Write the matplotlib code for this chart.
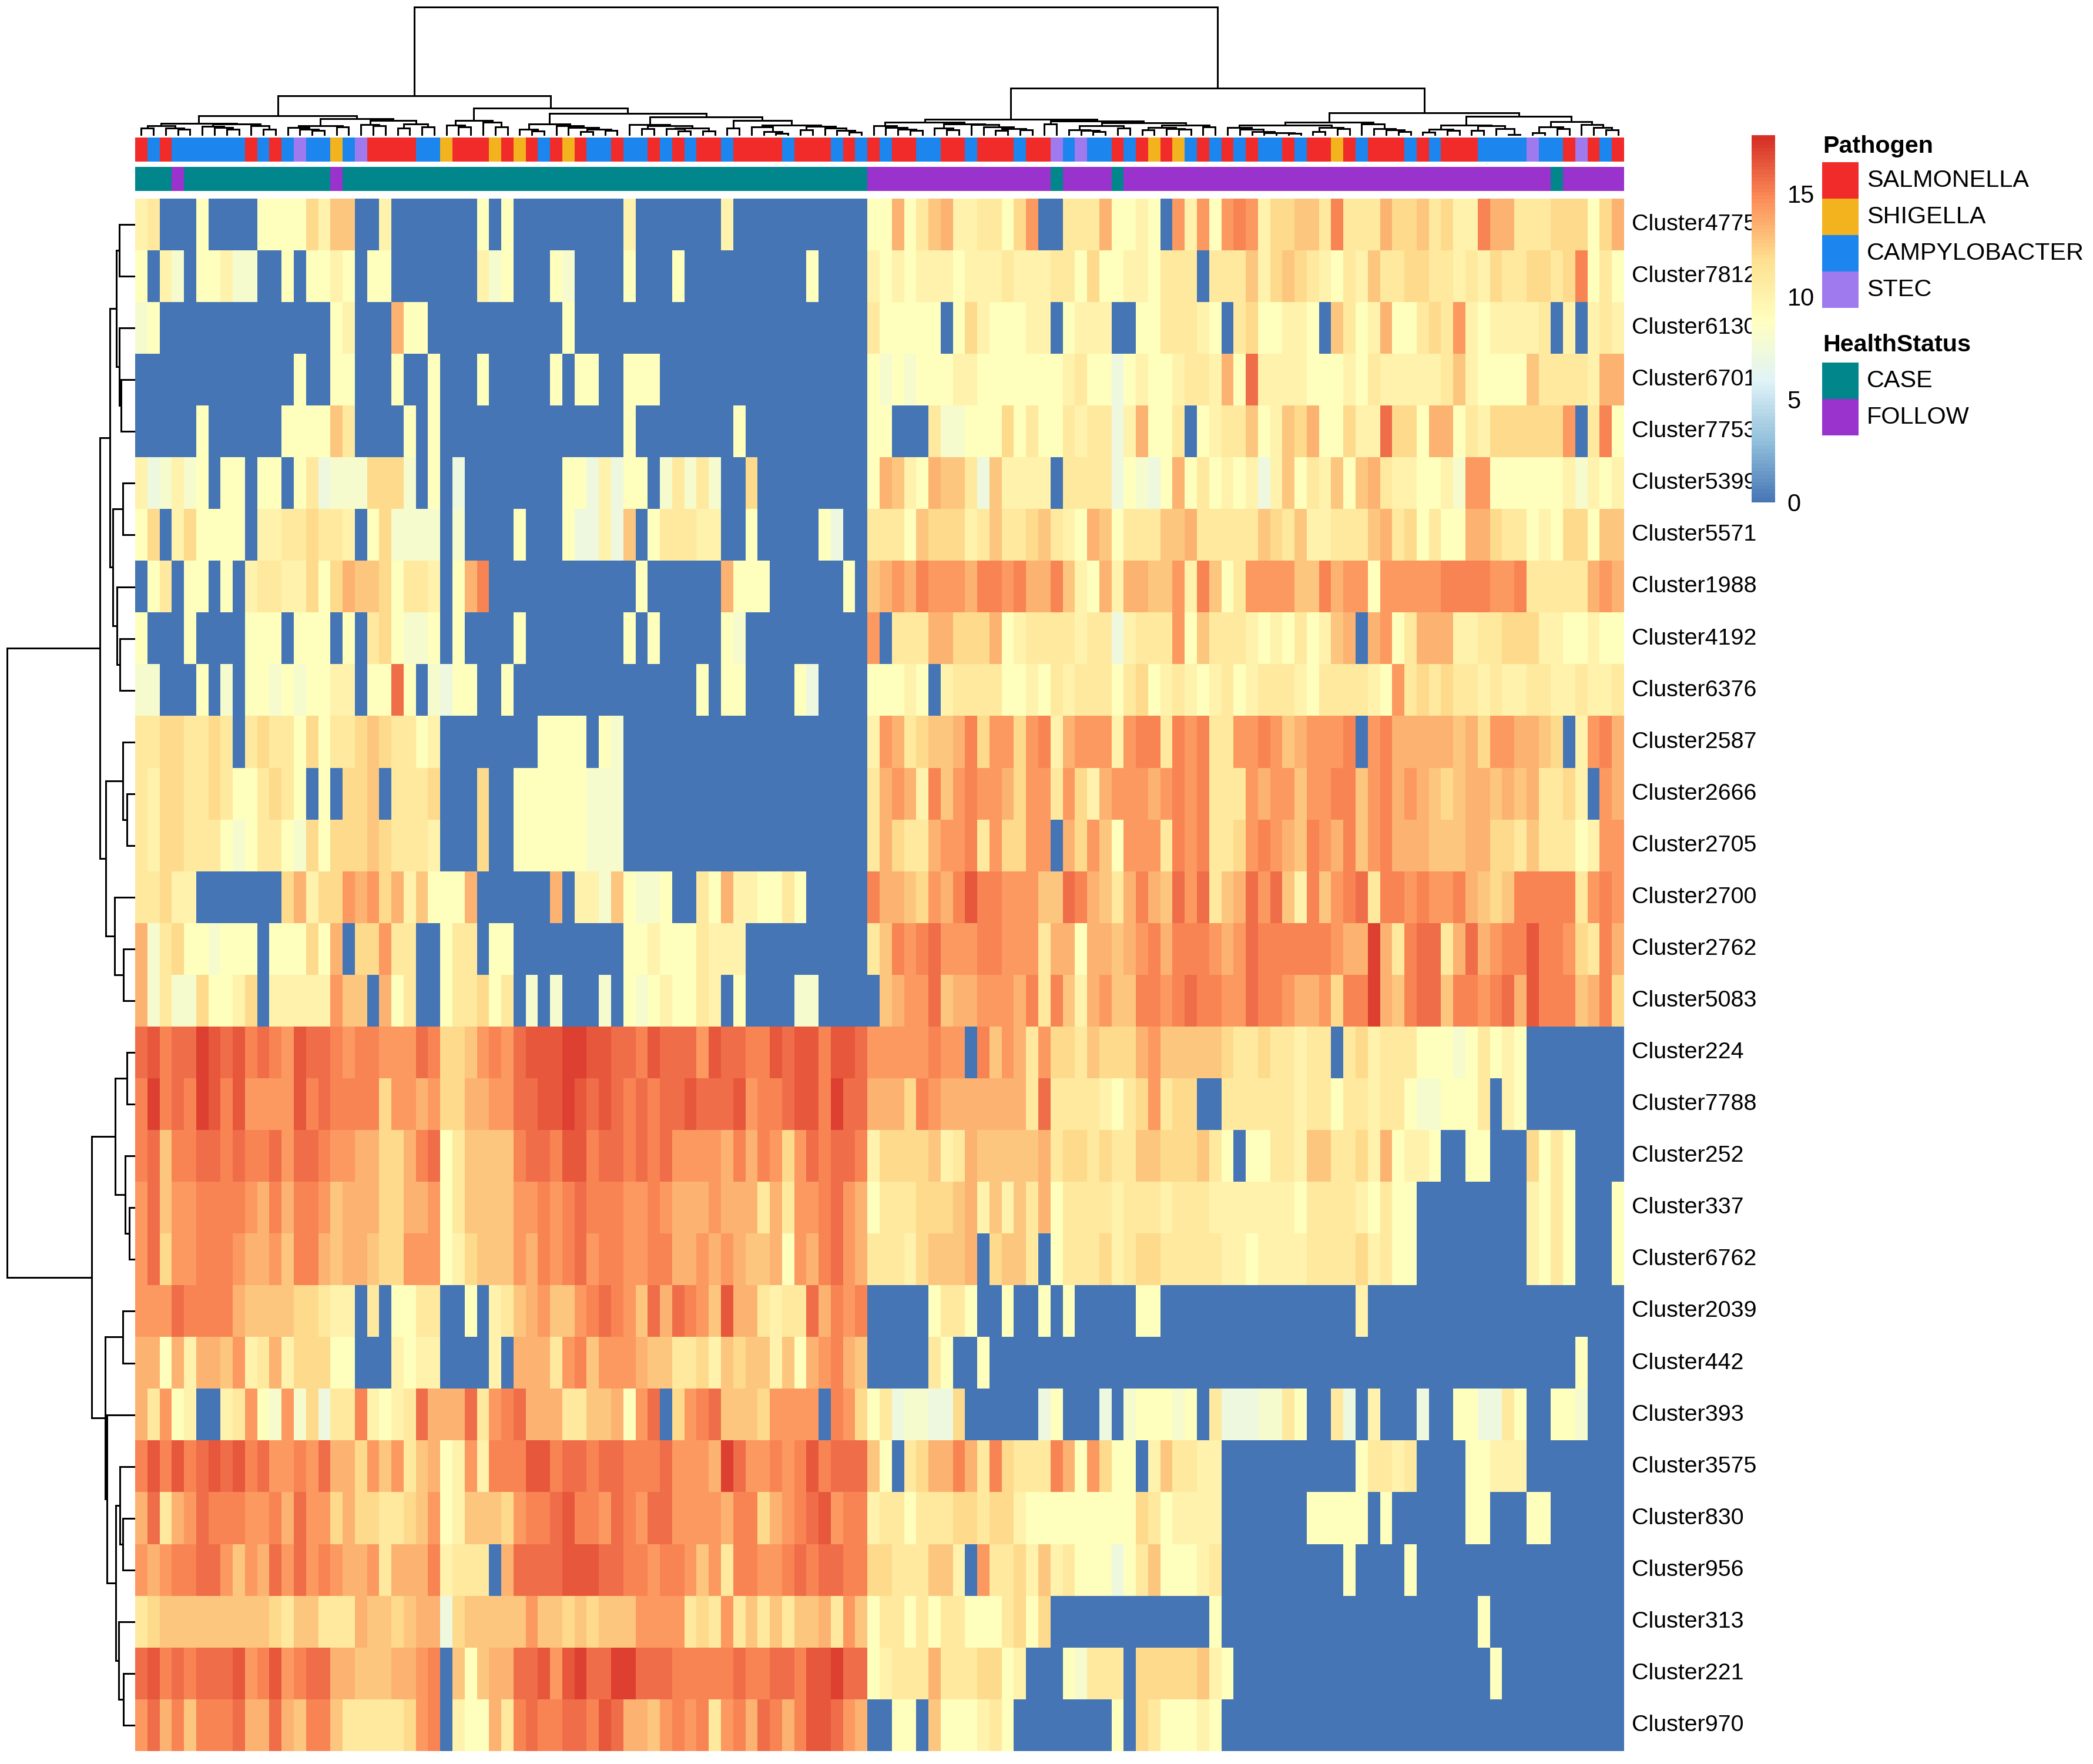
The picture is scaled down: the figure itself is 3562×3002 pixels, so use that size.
#!/usr/bin/env python3
# -*- coding: UTF-8 -*-
"""
Clustered heatmap of gene clusters by sample, with annotations and dendrograms.
"""
import numpy as np
import matplotlib
matplotlib.use('Agg')
from matplotlib import pyplot as plt
from matplotlib.collections import LineCollection
from matplotlib.colors import LinearSegmentedColormap, ListedColormap, Normalize
from matplotlib.colorbar import Colorbar
from matplotlib.patches import Rectangle

plt.rcParams['font.family'] = ['Liberation Sans', 'DejaVu Sans']

# value read for each letter in the rows below
LEVELS = {'.': 0.0, 'z': 7.3, 'y': 8.2, 'a': 9.0, 'b': 10.0, 'c': 11.0, 'd': 12.0,
          'e': 12.8, 'f': 13.5, 'h': 14.3, 'i': 15.0, 'j': 15.8, 'k': 16.5, 'l': 17.2}

CLUSTER4775 = "bc...a.... aaaadbee.. b.......a. a......... b.......b. .......... aafacefbbc cadh..cccf aaba.hbhah ihbddeecic ccfddecdbb iffcccdddadf"
CLUSTER7812 = "a.by.aabyy ..a.aaba.a a.......by a...ay.... a...a..... .....a.... bababbbabb bcbbbccada abbaccc.cc cebdedcbac beccddccbc bdccddcdiaca"
CLUSTER6130 = "ya........ ......ab.. .faa...... .....a.... .......... .......... caaaaa.adb aaabb.abbb ..aacccba. cdaabba.ec abfaacdchb abbbbc.b.bcb"
CLUSTER6701 = ".......... ...a..aa.. .a..a...a. ....a.aa.. aaa....... .......... ayayaaabba aaaaaabcaa zabaabccbf ajbbbbaaab acbbbbbceb aaaaeccccbff"
CLUSTER7753 = ".....a.... ..aaaaec.. ..a.a..... .......... a........a .......... aa...cyyaa adacaacbcc zbfaac.abc ceabedfaad bbjddaffac bddddddh.cia"
CLUSTER5399 = "bzybya.aa. aa.aczyyyd ddy.a.z... .....aazbz aa.ycycy.. d......... afebafeecz ebbbb.cccc zayzafacab abzbeacbea efcbbaabyh haaaaaabybab"
CLUSTER5571 = "ad.bdaaaa. bbccdccb.a dyyyy.y... .a...azzbz e.acccbb.. a.....az.. cccaedddbc eccdecbafe accceefccc ccedcebbcc cefcdacaaf fdccabaddaee"
CLUSTER1988 = ".ac.aa.a.b ccbbdadfee daccb.afi. .......... .a......fa aa......a. efhfihhhfi ihiffiebaf bffeehbiea chhhheeifh hahhhhhiii ihhicccccfhf"
CLUSTER4192 = "a...a....a aa.aaa.a.c dayya.a... .a........ a.a.....ay .......... h.cccffddd fabccccbcc zbccchaecc cbabacabef .fhacfffbb ccdddbbaabaa"
CLUSTER6376 = "yy...a.y.a ayayaabb.a aja.yzaa.. a......... ......a.aa ....az.... aaaba.bccc caabacbccc acdabcbabc abcccbaccc cbahcdcdcc bcbbccbbcbbc"
CLUSTER2587 = "ccddccdc.c dccadaccde dccab..... ...aaaa.ay .......... .......... bhfcdeefid hhdhibfhhh bhiicihicc hhihefhhhi .hifffffef dhhffed.bhif"
CLUSTER2666 = "cbddccdcaa cdca.a.dde .cccd...d. .aaaaaayyy .......... .......... cfhfbiehih hfdhhchdbf hhhfhihicc chfhhehhii ehifhfedef fefefccdb.hf"
CLUSTER2705 = "cbddcccaya ccaydaddde dcccb...d. .aaaaaayyy .......... .......... cfdccfhhic hddhh.fdhe ahhhcihicc dhihfeihfi ehifffeeef fddcecccabhh"
CLUSTER2700 = "ccdbb..... ..dfbddhfh dfbeaaaf.. ....f.bbye ayya..cafb baaca..... iffedhfiki ihhheejife cfifejhjce fjhjebiehi jciihihhif edeiiiiichih"
CLUSTER2762 = "fycdaayaaa .aaadaf.dd hcc..acc.a a......... aabaaacbbb .......... ceihijhhhi ihhhcffaff efhifiiihf hjiiiiiihf flfcijjcfj fhiikiihdcif"
CLUSTER5083 = "fycyydaabd .bbbbbhee. fac..accda c.y.y...y. ayabaacb.a ....yy.... .efhhjeffh hhficiebfh eeiihijiih hjiihffhdi ilfeijjeii hijfkiiiefid"
CLUSTER224 = "jkijjlkjki jihkjjihii hhhjiddehi hjkkkllkkj jikjjjhkjj iikjkkikkj hhhhhihh.i ehfchddced ddfheeeeed ccdccbcc.c dbcccaaaya caba........"
CLUSTER7788 = "ilijilkikh hhhkijiiii dhhfhddffh hjjkklkjkj ijijjkjjjk hiijkkiljj fffdihffff fffcjccccb acdhcdd..c cccccbccac cbccayyaaa c.ba........"
CLUSTER252 = "ijeiijjiji ijhjjihhff ddfijaceee eijjikkijj ijijhhhhfi fihdhjijji bddddebcfe eeeefcddcd cceedddeca .aaccbeecc dbfabba..a a...daca...."
CLUSTER337 = "hjehhiiiih fifiihefff ddffhaceee ehhihijiii hhihfffhff fcfchhijhf acccdddefb ebecfacccc bcccbcccbb bbbbbacccc bacaa..... ....baca...a"
CLUSTER6762 = "hjdhhiiihf fheiifeffe ddhhhabdee ehfihijhii hhiiffhfhf eefahfijhf cccbdeeef. deec.acccd bcddcccccb babbbbcccc dbcaa..... ....baca...a"
CLUSTER2039 = "hhhjiiiife eeeddcbb.c .aacc..a.b cefheehiji hejfjihekf fcbccjfihi .....acca. .a..a.a... ..aa...... .......... b......... ............"
CLUSTER442 = "ffafbffehb cfbdddaa.. .babb....b .fffchiehh hfeeccdbed eebeafhife .....ca..a .......... .......... .......... .......... ........a..."
CLUSTER393 = "fchab..bch ayhydzccib abcjfffjch ijfffcceef ahj.dhijee edhhhh.ihd aczyyzzd.. ....za...z .yaaaya.cz zzyyca..cz .b...z..aa zzca..aay..."
CLUSTER3575 = "ikikijkjki jhhihjffdh ehcefabhbi iikkijjijj iiijhhhflj hhihikijjj ea.cdffifc idcccifahd aa.beccbb. .......... accbc....a abbb........"
CLUSTER830 = "fjcfhjiiih hifjhhdfdd ccdehabeee dhiijkiihj ihjjhhhhfi idfhijkhii bccacccddc ddbaaaaaaa aadcabbbb. ......aaaa a.a......a a...aa......"
CLUSTER956 = "hfhiijjheh fjhjhihffh cfffibccc. fjjjjkkkjj iihiihehci ihhijijjii ddccceeb.h ccdbebcaaa zaceaaabc. .........a ....a..... ............"
CLUSTER313 = "cdeeeeeeee edceecccfe edeffzdeee eeheededee ehhhhcdchc ececeefche accacaccaa acdad..... ........a. .......... .......... a..........."
CLUSTER221 = "jkijijjjkh ikhijjffee effhi.eaef fjjkhkljjl ljjjiiiiij iijjikkljj abcccfcccd dab...aycc c.dddddeba .......... .......... .a.........."
CLUSTER970 = "hjfieiiijf fjfeiieccc ccdhi.baaf cijiijjikj ffehihichi fjifikkjhf ..aa.eaaab ca........ a.dcaaaba. .......... .......... ............"

ROW_LABELS = ['Cluster4775', 'Cluster7812', 'Cluster6130', 'Cluster6701', 'Cluster7753',
              'Cluster5399', 'Cluster5571', 'Cluster1988', 'Cluster4192', 'Cluster6376',
              'Cluster2587', 'Cluster2666', 'Cluster2705', 'Cluster2700', 'Cluster2762',
              'Cluster5083', 'Cluster224', 'Cluster7788', 'Cluster252', 'Cluster337',
              'Cluster6762', 'Cluster2039', 'Cluster442', 'Cluster393', 'Cluster3575',
              'Cluster830', 'Cluster956', 'Cluster313', 'Cluster221', 'Cluster970']
ROWS = [CLUSTER4775, CLUSTER7812, CLUSTER6130, CLUSTER6701, CLUSTER7753,
        CLUSTER5399, CLUSTER5571, CLUSTER1988, CLUSTER4192, CLUSTER6376,
        CLUSTER2587, CLUSTER2666, CLUSTER2705, CLUSTER2700, CLUSTER2762,
        CLUSTER5083, CLUSTER224, CLUSTER7788, CLUSTER252, CLUSTER337,
        CLUSTER6762, CLUSTER2039, CLUSTER442, CLUSTER393, CLUSTER3575,
        CLUSTER830, CLUSTER956, CLUSTER313, CLUSTER221, CLUSTER970]

# S salmonella, H shigella, C campylobacter, T stec
PATHOGEN = ("SCSCCCCCCS CSCTCCHCTS SSSCCHSSSH SHSCSHSCCS CCSCSCSSCS SSSCSSSCSC "
            "SCSSCCSSCS SSCSSTCTCC SCSHSHCSCS CSCCSCSSHS CSSSCSCSSS CCCCTCCSTSCS")
# C case, F follow
HEALTH = ("CCCFCCCCCC CCCCCCFCCC CCCCCCCCCC CCCCCCCCCC CCCCCCCCCC CCCCCCCCCC "
          "FFFFFFFFFF FFFFFCFFFF CFFFFFFFFF FFFFFFFFFF FFFFFFFFFF FFFFFFCFFFFF")

PATHOGEN_NAMES = ['SALMONELLA', 'SHIGELLA', 'CAMPYLOBACTER', 'STEC']
PATHOGEN_COLORS = ['#F12A2A', '#F2B31E', '#1C86EE', '#9F79EE']
HEALTH_NAMES = ['CASE', 'FOLLOW']
HEALTH_COLORS = ['#00868B', '#9A32CD']
HEAT_COLORS = ['#4575B4', '#91BFDB', '#E0F3F8', '#FFFFBF', '#FEE090', '#FC8D59', '#D73027']
V_MAX = 17.83
COLORBAR_TICKS = [0, 5, 10, 15]

# merge trees: (height, left, right), ints are leaves
COL_TREE = (219,
    (68,
        (34,
            (21,
                (17, (13, 0, 1), (13, 2, (11, 3, 4))),
                (20, (16, 5, (14, 6, (11, 7, 8))), (17, 9, (11, 10, 11)))),
            (29,
                (17, (14, 12, (11, 13, (9, 14, 15))), (15, 16, 17)),
                (26, (19, 18, (17, 19, 20)), (20, (13, 21, 22), (15, 23, 24))))),
        (47,
            (26, (18, 25, (15, 26, 27)), (23, 28, (15, 29, 30))),
            (38,
                (20,
                    (11, 31, (8, 32, 33)),
                    (17, 34, (14, 35, (11, (7, 36, 37), (9, 38, 39))))),
                (32,
                    (19, 40, (17, (12, 41, 42), (13, (12, 43, (8, 44, 45)), (8, 46, 47)))),
                    (26,
                        (13, 48, 49),
                        (18,
                            (15, 50, (7, 51, (4, 52, 53))),
                            (16, (10, 54, 55), (13, 56, (9, 57, (6, 58, 59)))))))))),
    (81,
        (28,
            (23,
                (17, 60, (14, 61, (11, 62, (9, 63, 64)))),
                (20,
                    (13, 65, (10, 66, 67)),
                    (19, 68, (15, 69, (12, (9, 70, 71), (10, 72, 73)))))),
            (25,
                (20, 74, 75),
                (22,
                    (17, (10, 76, (9, 77, (7, 78, 79))), (13, 80, 81)),
                    (18, (14, (10, 82, 83), (12, 84, (11, 85, 86))), (15, 87, 88))))),
        (39,
            (23,
                (18,
                    (14, 89, (11, 90, (7, 91, (5, 92, (5, 93, (4, 94, 95)))))),
                    (14, (7, 96, 97), (12, 98, 99))),
                (20, 100, (12, 101, (10, 102, (7, 103, 104))))),
            (33,
                (18,
                    (11, (6, 105, 106), (9, 107, 108)),
                    (17, (9, 109, 110), (12, 111, (2, 112, 113)))),
                (24,
                    (15, (5, 114, 115), (12, 116, 117)),
                    (19, 118, (14, 119, (10, 120, 121))))))))

ROW_TREE = (218,
    (60,
        (43,
            (32, (27, 0, 1), (27, 2, (24, 3, 4))),
            (38, (21, 5, 6), (31, 7, (26, 8, 9)))),
        (50,
            (21, 10, (14, 11, 12)),
            (35, 13, (20, 14, 15)))),
    (74,
        (34, (14, 16, 17), (17, 18, (10, 19, 20))),
        (51,
            (21, 21, 22),
            (48, 23, (33, (26, 24, (21, 25, 26)), (28, 27, (20, 28, 29)))))))

WIDTH, HEIGHT = 3562, 3002
DPI = 300
LINE_WIDTH = 0.72


def add_axes_px(fig, x0, y0, x1, y1):
    """Add axes from a box given in pixels, measured from the top left."""
    ax = fig.add_axes([x0 / WIDTH, 1 - y1 / HEIGHT, (x1 - x0) / WIDTH, (y1 - y0) / HEIGHT])
    ax.set_axis_off()
    return ax


def tree_segments(node, segments, horizontal):
    """Walk a merge tree, collect its line segments, return (position, height)."""
    if isinstance(node, int):
        return node + 0.5, 0
    height, left, right = node
    pos_l, h_l = tree_segments(left, segments, horizontal)
    pos_r, h_r = tree_segments(right, segments, horizontal)
    path = [(pos_l, h_l), (pos_l, height), (pos_r, height), (pos_r, h_r)]
    segments.append([(h, p) for p, h in path] if horizontal else path)
    return (pos_l + pos_r) / 2, height


def draw_tree(ax, tree, horizontal=False):
    segments = []
    tree_segments(tree, segments, horizontal)
    ax.add_collection(LineCollection(segments, colors='black', linewidths=LINE_WIDTH,
                                     capstyle='projecting', joinstyle='miter'))


fig = plt.figure(figsize=(WIDTH / DPI, HEIGHT / DPI), dpi=DPI, facecolor='white')

matrix = np.array([[LEVELS[c] for c in row.replace(' ', '')] for row in ROWS])
n_rows, n_cols = matrix.shape
heat_cmap = LinearSegmentedColormap.from_list('rdylbu_rev', HEAT_COLORS, N=100)
norm = Normalize(0, V_MAX)

# main heatmap
ax_heat = add_axes_px(fig, 230, 338, 2764, 2980)
ax_heat.imshow(matrix, cmap=heat_cmap, norm=norm, aspect='auto', interpolation='nearest')
for row, label in enumerate(ROW_LABELS):
    ax_heat.annotate(label, xy=(1, 1 - (row + 0.5) / n_rows), xycoords='axes fraction',
                     xytext=(13 * 72 / DPI, 0), textcoords='offset points',
                     ha='left', va='center', fontsize=9.45, annotation_clip=False)

# annotation bars
pathogen_idx = [[list('SHCT').index(c) for c in PATHOGEN.replace(' ', '')]]
ax_path = add_axes_px(fig, 230, 234, 2764, 275)
ax_path.imshow(pathogen_idx, cmap=ListedColormap(PATHOGEN_COLORS), vmin=0, vmax=3,
               aspect='auto', interpolation='nearest')
health_idx = [[list('CF').index(c) for c in HEALTH.replace(' ', '')]]
ax_health = add_axes_px(fig, 230, 284, 2764, 325)
ax_health.imshow(health_idx, cmap=ListedColormap(HEALTH_COLORS), vmin=0, vmax=1,
                 aspect='auto', interpolation='nearest')

# dendrograms, heights are in pixels of the reference
ax_top = add_axes_px(fig, 230, 0, 2764, 230.7)
ax_top.set_xlim(0, n_cols)
ax_top.set_ylim(0, 230.7)
draw_tree(ax_top, COL_TREE)

ax_left = add_axes_px(fig, 0, 338, 230, 2980)
ax_left.set_xlim(230, 0)
ax_left.set_ylim(n_rows, 0)
draw_tree(ax_left, ROW_TREE, horizontal=True)

# colour bar
ax_bar = fig.add_axes([2981 / WIDTH, 1 - 855 / HEIGHT, 40.4 / WIDTH, 625 / HEIGHT])
colorbar = Colorbar(ax_bar, cmap=heat_cmap, norm=norm, ticks=COLORBAR_TICKS)
colorbar.outline.set_visible(False)
colorbar.solids.set_edgecolor('face')
ax_bar.tick_params(length=0, pad=4.8, labelsize=10)

# legends drawn over the whole figure in pixel coordinates
ax_legend = add_axes_px(fig, 0, 0, WIDTH, HEIGHT)
ax_legend.set_xlim(0, WIDTH)
ax_legend.set_ylim(HEIGHT, 0)
ax_legend.patch.set_alpha(0)


def draw_legend(title, names, colors, title_y, box_y):
    ax_legend.text(3102, title_y, title, fontsize=9.9, fontweight='bold', ha='left', va='center')
    for i, (name, color) in enumerate(zip(names, colors)):
        ax_legend.add_patch(Rectangle((3101, box_y + i * 61.9), 62, 61.9, facecolor=color,
                                      edgecolor='none'))
        ax_legend.text(3177, box_y + (i + 0.5) * 61.9, name, fontsize=9.95, ha='left', va='center')


draw_legend('Pathogen', PATHOGEN_NAMES, PATHOGEN_COLORS, 249, 276)
draw_legend('HealthStatus', HEALTH_NAMES, HEALTH_COLORS, 587.5, 617)

fig.savefig('out.png', dpi=DPI)
